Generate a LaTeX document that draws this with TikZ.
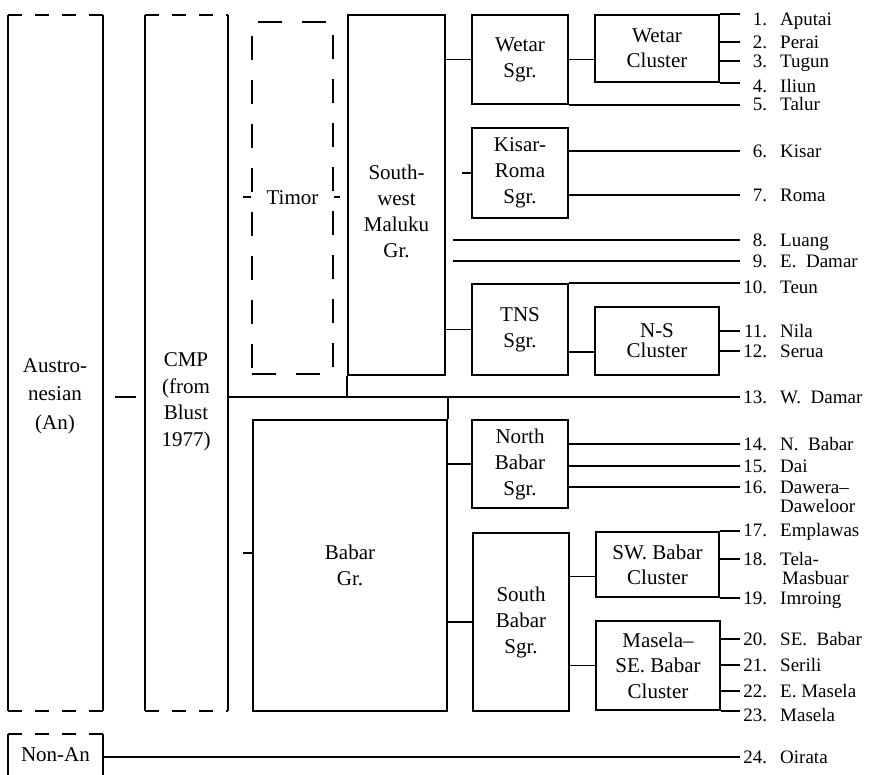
\documentclass[tikz,border=0pt]{standalone}
\usepackage{fontspec}
\setmainfont{Liberation Serif}
\newcommand{\lnum}[1]{\makebox[27pt][r]{#1}\hspace{13pt}}

\begin{document}
\begin{tikzpicture}[x=1pt, y=-1pt, font=\fontsize{21}{26}\selectfont,
  box/.style={rectangle, draw, line width=1.8pt, inner sep=0pt, align=center},
  grp/.style={rectangle, inner sep=0pt, align=center},
  txt/.style={align=center, inner sep=0pt},
  lang/.style={anchor=west, inner sep=0pt, font=\fontsize{19}{22}\selectfont,
               text height=13pt, text depth=0pt},
  side/.style={line width=1.8pt},
  dsh/.style={line width=1.8pt, dash pattern=on 14pt off 13pt},
  link/.style={line width=1.3pt}]
  \useasboundingbox (0,0) rectangle (888,775);

  % An and CMP columns
  \node[grp, minimum width=95pt, minimum height=696pt] (an) at (55.5,363) {};
  \draw[side] (an.north west) -- (an.south west) (an.north east) -- (an.south east);
  \draw[dsh] (an.north west) -- (an.north east) (an.south west) -- (an.south east);
  \node[txt, font=\fontsize{21}{28.5}\selectfont] (antxt) at (55,396) {Austro-\\nesian\\(An)};
  \node[grp, minimum width=83pt, minimum height=696pt] (cmp) at (186.5,363) {};
  \draw[side] (cmp.north west) -- (cmp.south west) (cmp.north east) -- (cmp.south east);
  \draw[dsh] (cmp.north west) -- (cmp.north east) (cmp.south west) -- (cmp.south east);
  \node[txt, font=\fontsize{21}{26.5}\selectfont] (cmptxt) at (186,402) {CMP\\(from\\Blust\\1977)};
  \coordinate (anl) at (115,397);
  \coordinate (anr) at (136,397);
  \draw[side] (anl) -- (anr);

  % Non-An
  \node[grp, minimum width=95pt, minimum height=42pt] (nonan) at (55.5,755) {Non-An};
  \draw[side] (nonan.north west) -- (nonan.south west) (nonan.north east) -- (nonan.south east);
  \draw[dsh] (nonan.north west) -- (nonan.north east);

  % Timor, Southwest Maluku, Babar
  \node[box, dash pattern=on 24pt off 20pt, minimum width=81pt, minimum height=352pt] (timor) at (292.5,198) {Timor};
  \coordinate (tml) at (243,197);
  \coordinate (tmr) at (340,197);
  \draw[link] (tml) -- (tml -| timor.west);
  \draw[link] (timor.east |- tmr) -- (tmr);
  \node[box, minimum width=97pt, minimum height=360pt] (swm) at (396.5,195) {};
  \node[txt] (swmtxt) at (396.5,211) {South-\\west\\Maluku\\Gr.};
  \node[box, minimum width=194pt, minimum height=291pt] (bab) at (350,565.5) {Babar\\Gr.};
  \coordinate (babt) at (243,553);
  \draw[link] (babt) -- (babt -| bab.west);

  % subgroups
  \node[box, minimum width=96pt, minimum height=89pt] (ws) at (520,59.5) {Wetar\\Sgr.};
  \node[box, minimum width=124pt, minimum height=67pt, font=\fontsize{21}{25}\selectfont] (wc) at (657,48.5) {Wetar\\Cluster};
  \node[box, minimum width=96pt, minimum height=90pt] (kr) at (520,173) {Kisar-\\Roma\\Sgr.};
  \coordinate (krt) at (462,173);
  \draw[link] (krt) -- (kr.west);
  \node[box, minimum width=96pt, minimum height=91pt] (tns) at (520,329.5) {TNS\\Sgr.};
  \node[box, minimum width=124pt, minimum height=68pt, font=\fontsize{21}{20}\selectfont] (ns) at (657,341) {N-S\\Cluster};
  \node[box, minimum width=96pt, minimum height=88pt] (nb) at (520,464) {North\\Babar\\Sgr.};
  \node[box, minimum width=96pt, minimum height=178pt] (sb) at (521,622) {South\\Babar\\Sgr.};
  \node[box, minimum width=123pt, minimum height=65pt, font=\fontsize{21}{25}\selectfont] (swb) at (657.5,564.5) {SW. Babar\\Cluster};
  \node[box, minimum width=124pt, minimum height=89pt, font=\fontsize{21}{25.5}\selectfont] (ms) at (658,665.5) {Masela--\\SE. Babar\\Cluster};

  % languages
  \node[lang] (l1) at (740,19) {\lnum{1.}Aputai};
  \node[lang] (l2) at (740,42) {\lnum{2.}Perai};
  \node[lang] (l3) at (740,61) {\lnum{3.}Tugun};
  \node[lang] (l4) at (740,86) {\lnum{4.}Iliun};
  \node[lang] (l5) at (740,104) {\lnum{5.}Talur};
  \node[lang] (l6) at (740,151) {\lnum{6.}Kisar};
  \node[lang] (l7) at (740,195) {\lnum{7.}Roma};
  \node[lang] (l8) at (740,240) {\lnum{8.}Luang};
  \node[lang] (l9) at (740,261) {\lnum{9.}E.~~Damar};
  \node[lang] (l10) at (740,287) {\lnum{10.}Teun};
  \node[lang] (l11) at (740,331) {\lnum{11.}Nila};
  \node[lang] (l12) at (740,351) {\lnum{12.}Serua};
  \node[lang] (l13) at (740,397) {\lnum{13.}W.~~Damar};
  \node[lang] (l14) at (740,444) {\lnum{14.}N.~~Babar};
  \node[lang] (l15) at (740,466) {\lnum{15.}Dai};
  \node[lang] (l16) at (740,487) {\lnum{16.}Dawera--};
  \node[lang] (l16b) at (780,506) {Daweloor};
  \node[lang] (l17) at (740,530) {\lnum{17.}Emplawas};
  \node[lang] (l18) at (740,559) {\lnum{18.}Tela-};
  \node[lang] (l18b) at (782,578) {Masbuar};
  \node[lang] (l19) at (740,598) {\lnum{19.}Imroing};
  \node[lang] (l20) at (740,639) {\lnum{20.}SE.~~Babar};
  \node[lang] (l21) at (740,665) {\lnum{21.}Serili};
  \node[lang] (l22) at (740,691) {\lnum{22.}E. Masela};
  \node[lang] (l23) at (740,715) {\lnum{23.}Masela};
  \node[lang] (l24) at (740,757) {\lnum{24.}Oirata};

  % Southwest Maluku links
  \draw[link] (swm.east |- ws.west) -- (ws.west);
  \draw[link] (ws.east) -- (ws.east -| wc.west);
  \draw[link] (wc.north east) -- (wc.north east -| l1.west);
  \draw[link] (wc.east |- l2.west) -- (l2.west);
  \draw[link] (wc.east |- l3.west) -- (l3.west);
  \draw[link] (wc.south east) -- (wc.south east -| l4.west);
  \draw[link] (ws.south east) -- (ws.south east -| l5.west);
  \draw[link] (kr.east |- l6.west) -- (l6.west);
  \draw[link] (kr.east |- l7.west) -- (l7.west);
  \draw[link] ([xshift=7pt]swm.east |- l8.west) -- (l8.west);
  \draw[link] ([xshift=7pt]swm.east |- l9.west) -- (l9.west);
  \draw[link] (tns.north east) -- (tns.north east -| l10.west);
  \draw[link] (swm.east |- tns.west) -- (tns.west);
  \draw[link] ([yshift=-11pt]ns.west -| tns.east) -- ([yshift=-11pt]ns.west);
  \draw[link] (ns.east |- l11.west) -- (l11.west);
  \draw[link] (ns.east |- l12.west) -- (l12.west);

  % W. Damar line
  \draw[side] (cmp.east |- l13.west) -- (l13.west);
  \draw[side] (swm.south west) -- (swm.south west |- l13.west);
  \draw[side] (bab.north east) -- (bab.north east |- l13.west);

  % Babar links
  \draw[link] (nb.west -| bab.east) -- (nb.west);
  \draw[link] (nb.east |- l14.west) -- (l14.west);
  \draw[link] (nb.east |- l15.west) -- (l15.west);
  \draw[link] (nb.east |- l16.west) -- (l16.west);
  \draw[link] (sb.west -| bab.east) -- (sb.west);
  \draw[link] ([yshift=-12pt]swb.west -| sb.east) -- ([yshift=-12pt]swb.west);
  \draw[link] (ms.west -| sb.east) -- (ms.west);
  \draw[link] (swb.north east) -- (swb.north east -| l17.west);
  \draw[link] (swb.east |- l18.west) -- (l18.west);
  \draw[link] (swb.south east) -- (swb.south east -| l19.west);
  \draw[link] (ms.east |- l20.west) -- (l20.west);
  \draw[link] (ms.east |- l21.west) -- (l21.west);
  \draw[link] (ms.east |- l22.west) -- (l22.west);
  \draw[link] (ms.south east) -- (ms.south east -| l23.west);
  \draw[link] (nonan.east |- l24.west) -- (l24.west);
\end{tikzpicture}
\end{document}
